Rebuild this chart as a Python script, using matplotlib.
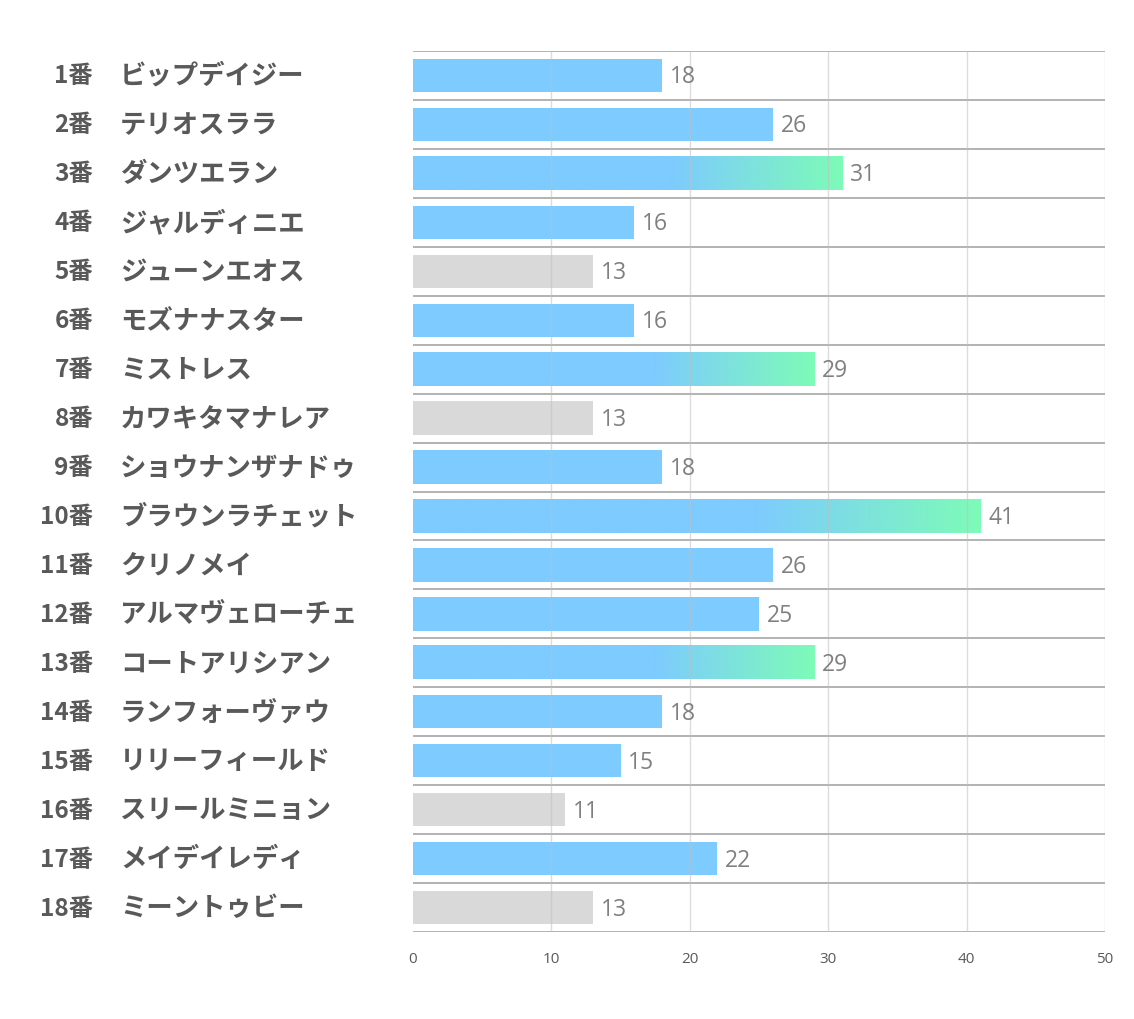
import matplotlib
matplotlib.use('Agg')
import matplotlib.pyplot as plt
import numpy as np
from matplotlib.colors import LinearSegmentedColormap
from matplotlib.transforms import blended_transform_factory

plt.rcParams['font.family'] = ['Noto Sans CJK JP', 'DejaVu Sans']

# データ
numbers = [f'{i}番' for i in range(1, 19)]
names = ['ビップデイジー', 'テリオスララ', 'ダンツエラン', 'ジャルディニエ', 'ジューンエオス',
         'モズナナスター', 'ミストレス', 'カワキタマナレア', 'ショウナンザナドゥ', 'ブラウンラチェット',
         'クリノメイ', 'アルマヴェローチェ', 'コートアリシアン', 'ランフォーヴァウ', 'リリーフィールド',
         'スリールミニョン', 'メイデイレディ', 'ミーントゥビー']
values = [18, 26, 31, 16, 13, 16, 29, 13, 18, 41, 26, 25, 29, 18, 15, 11, 22, 13]
# 種別: 'blue' 通常, 'grad' グラデーション, 'gray' グレー
kinds = ['blue', 'blue', 'grad', 'blue', 'gray', 'blue', 'grad', 'gray', 'blue', 'grad',
         'blue', 'blue', 'grad', 'blue', 'blue', 'gray', 'blue', 'gray']
xticks = [0, 10, 20, 30, 40, 50]

BLUE = '#7DCBFF'
GREEN = '#7DFBB8'
GRAY = '#D9D9D9'
grad_cmap = LinearSegmentedColormap.from_list('bg', [BLUE, GREEN])

fig = plt.figure(figsize=(11.34, 10.2), dpi=100)
ax = fig.add_axes([0.3642, 0.0853, 0.6102, 0.8637])

n = len(values)
bar_h = 0.68
pos = np.linspace(0, 1, 256)
for i, (v, k) in enumerate(zip(values, kinds)):
    if k == 'gray':
        ax.barh(i, v, height=bar_h, color=GRAY, zorder=2)
    elif k == 'blue':
        ax.barh(i, v, height=bar_h, color=BLUE, zorder=2)
    else:
        # 後半部分をグラデーションに
        g = np.clip((pos - 0.6) / 0.4, 0, 1)
        ax.imshow(g[np.newaxis, :], cmap=grad_cmap, vmin=0, vmax=1,
                  extent=[0, v, i + bar_h / 2, i - bar_h / 2], aspect='auto',
                  interpolation='bilinear', zorder=2)
    ax.text(v + 0.55, i + 0.02, str(v), va='center', ha='left', fontsize=16.5,
            color='#808080', family=['Open Sans', 'DejaVu Sans'], zorder=4)

ax.set_xlim(0, 50)
ax.set_ylim(n - 0.5, -0.5)

# 行の区切り線
for b in np.arange(-0.5, n, 1.0):
    ax.axhline(b, color='#A6A6A6', lw=1.2, zorder=1)
# 縦の目盛線（棒の上にも薄く透ける）
for x in xticks[1:]:
    ax.axvline(x, color='#C0C0C0', lw=1, alpha=0.55, zorder=3)

for s in ax.spines.values():
    s.set_visible(False)
ax.set_yticks([])
ax.set_xticks(xticks)
ax.tick_params(axis='x', length=0, pad=14, labelsize=11, labelcolor='#595959')
for t in ax.get_xticklabels():
    t.set_family(['Open Sans', 'DejaVu Sans'])

# 左側のラベル
tr = blended_transform_factory(fig.transFigure, ax.transData)
for i in range(n):
    fig.text(93 / 1134, i, numbers[i], transform=tr, ha='right', va='center',
             fontsize=17.5, fontweight='bold', color='#595959')
    fig.text(120 / 1134, i, names[i], transform=tr, ha='left', va='center',
             fontsize=19, fontweight='bold', color='#595959')

fig.savefig('out.png', dpi=100, facecolor='white')
